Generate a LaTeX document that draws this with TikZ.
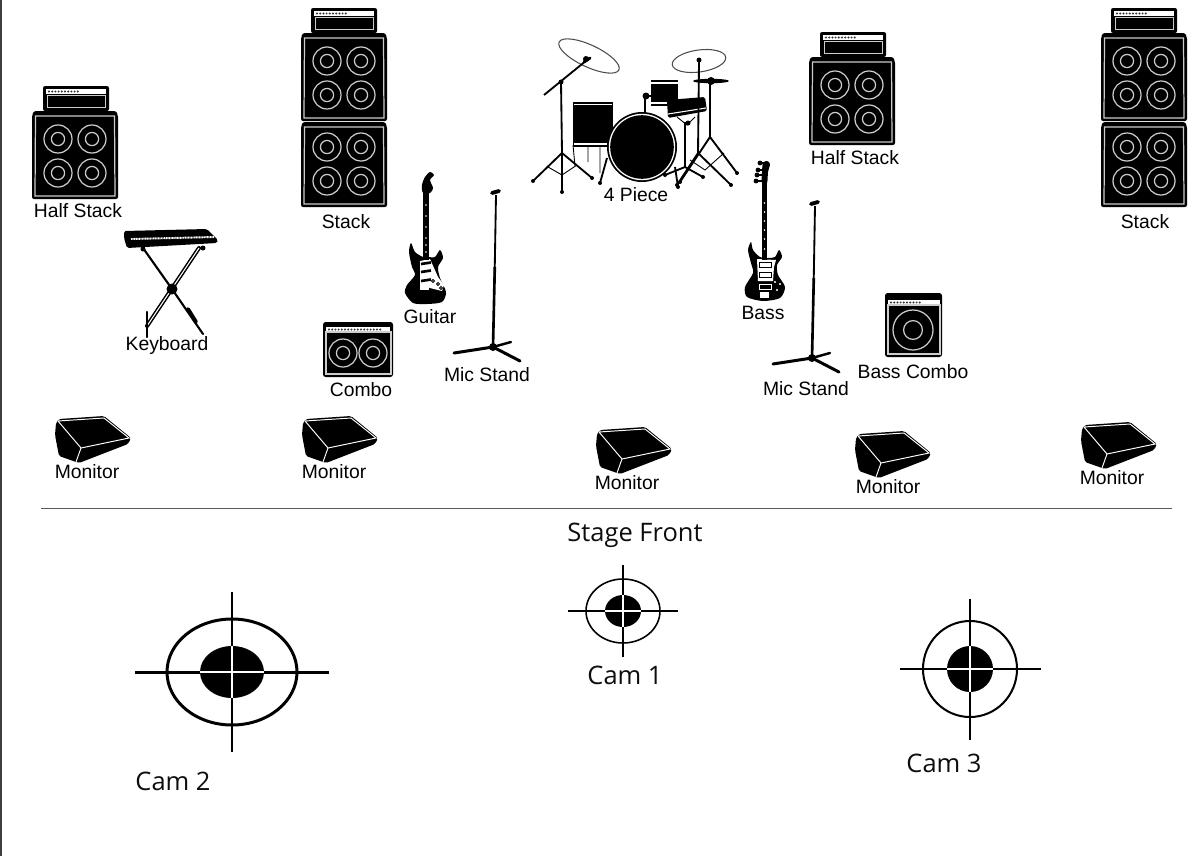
\documentclass[tikz,border=0pt]{standalone}
\usepackage{fontspec}
\setmainfont{Liberation Sans}
\newfontfamily\camfont{Open Sans}
\tikzset{
  lbl/.style={font=\fontsize{11}{13}\selectfont, text=black, inner sep=0pt},
  capt/.style={font=\camfont\fontsize{14.5}{16}\selectfont, text=black!95, inner sep=0pt},
  cone/.style={draw=black!20, line width=0.7pt},
  pipe/.style={draw=black, line width=1.05pt},
  thinpipe/.style={draw=black, line width=0.5pt},
  foot/.style={draw=black, line width=1.7pt, line cap=round}
}
% speaker at (x,y) with radius r
\newcommand{\speaker}[3]{
  \draw[cone] (#1,#2) circle [radius=#3];
  \draw[cone] (#1,#2) circle [radius=0.47*#3];
}
% row of knobs on an amp strip
\newcommand{\ampstrip}[4]{
  \fill[white] (#1,#2) rectangle (#3,#2+5);
  \foreach \k in {0,...,#4} \fill[black!80] (#1+3+\k*3.2,#2+2.5) circle [radius=1.1];
}
\newcommand{\amphead}[2]{
\begin{scope}[shift={(#1,#2)}]
\fill[rounded corners=1.2pt] (0,0) rectangle (66,25);
\ampstrip{3}{3}{63}{9}
\draw[cone, line width=0.35pt] (4,9.5) rectangle (62,21);
\end{scope}
}
\newcommand{\cabinet}[4]{
\begin{scope}[shift={(#1,#2)}]
\fill[rounded corners=1.2pt] (2,0) -- (84,0) -- (86,4) -- (86,#3) -- (0,#3) -- (0,4) -- cycle;
\draw[cone, line width=0.7pt] (3.5,5) -- (82.5,5) -- (83,#3-3) -- (3,#3-3) -- cycle;
\speaker{26}{#4}{14}
\speaker{60}{#4}{14}
\speaker{26}{#4+34}{14}
\speaker{60}{#4+34}{14}
\end{scope}
}
\newcommand{\micstand}[2]{
\begin{scope}[shift={(#1,#2)}]
\draw[pipe] (3,-152) -- (1.5,-65);
\draw[draw=black, line width=1.5pt] (1.8,-80) -- (0,0);
\draw[foot, line width=2.2pt] (-1,-154) -- (6,-156);
\draw[foot] (-39,6) -- (0,0) -- (27,14);
\draw[foot, line width=1.4pt] (0,0) -- (18,-5);
\fill (0,0) circle [radius=4];
\end{scope}
}
\newcommand{\monitor}[2]{
\begin{scope}[shift={(#1,#2)}]
\fill[rounded corners=1pt] (1,7) -- (4,3) -- (49,0) -- (76,22) -- (73,28) -- (24,47) -- (4,40) -- (0,19) -- cycle;
\draw[white, line width=0.55pt] (3,5) -- (49,2) -- (74,22) -- (26,32) -- cycle;
\draw[white, line width=0.55pt] (26,32) -- (21,46);
\end{scope}
}
% cam mark: x, y, rx, ry, inner rx, inner ry, half width, half height, line width
\newcommand{\cammark}[9]{
\fill (#1,#2) ellipse [x radius=#5, y radius=#6];
\draw[line width=#9] (#1,#2) ellipse [x radius=#3, y radius=#4];
\draw[line width=#9] (#1-#7,#2) -- (#1+#7,#2) (#1,#2-#8) -- (#1,#2+#8);
\draw[white, line width=0.75*#9] (#1-#5,#2) -- (#1+#5,#2) (#1,#2-#6) -- (#1,#2+#6);
}
\begin{document}
\begin{tikzpicture}[x=0.02cm, y=-0.02cm]
\useasboundingbox (0,0) rectangle (1200,856);
\fill[black!75] (0,0) rectangle (2.5,856);

% half stacks
\amphead{43}{86}
\cabinet{32}{111}{88}{28}
\node[lbl] (halfa) at (78,211) {Half Stack};
\amphead{820}{32}
\cabinet{809}{57}{88}{28}
\node[lbl] (halfb) at (855,158) {Half Stack};

% stacks
\foreach \sx in {301,1101} {
  \amphead{\sx+10}{8}
  \cabinet{\sx}{33}{88}{28}
  \cabinet{\sx}{122}{85}{25}
}
\node[lbl] (stacka) at (346,222) {Stack};
\node[lbl] (stackb) at (1145,222) {Stack};

% keyboard
\draw[foot, line width=1.2pt] (143,248) -- (172,289) -- (203,334);
\draw[foot, line width=2.3pt] (199,248) -- (147,326);
\draw[white, line width=0.6pt] (199,248) -- (147,326);
\draw[foot, line width=1.3pt] (147,312) -- (147,337);
\draw[foot, line width=2.2pt] (188,309) -- (196,322);
\fill (172,289) circle [radius=5.5];
\fill (143,249) circle [radius=2.5];
\fill (203,248) circle [radius=2.5];
\fill[rounded corners=1pt] (124,231) -- (207,229) -- (218,240) -- (217,243) -- (127,248) -- (124,238) -- cycle;
\draw[white, line width=1.1pt, dash pattern=on 0.6pt off 0.3pt] (131,239) -- (214,237);
\node[lbl] (keys) at (167,345) {Keyboard};

% combo
\fill[rounded corners=1.5pt] (323,322) rectangle (393,377);
\ampstrip{326}{327}{390}{16}
\draw[cone] (326,332) rectangle (391,374);
\speaker{343}{353}{14}
\speaker{373}{353}{14}
\node[lbl] (comboa) at (361,390) {Combo};

% guitar
\fill plot[smooth cycle, tension=0.45] coordinates {(423,257) (415,252) (411,243) (409,252) (412,267) (415,275) (407,285) (405,293) (413,303) (427,304) (442,302) (446,292) (440,278) (438,267) (443,258) (440,250) (435,257) (428,257)};
\fill[white] (420,261) -- (430,259) -- (438,277) -- (444,285) -- (442,291) -- (430,288) -- (420,284) -- cycle;
\foreach \gy in {264,272,281} \draw[draw=black, line width=1.5pt] (421,\gy) -- (431,\gy-1.5);
\fill[white] (420,284) rectangle (429,290);
\foreach \gx/\gy in {433/281,438/284,441/288} \draw[thinpipe, fill=white] (\gx,\gy) circle [radius=1.4];
\draw[black, line width=3.2pt] (426,188) -- (426,260);
\foreach \gy in {205,216,227,238,245,252} \fill[white] (426,\gy) circle [radius=0.8];
\fill plot[smooth cycle, tension=0.5] coordinates {(423,193) (422,185) (425,177) (430,172) (434,175) (430,180) (433,188) (430,193)};
\node[lbl] (guitar) at (430,317) {Guitar};

% mic stands
\micstand{493}{347}
\node[lbl] (mica) at (487,375) {Mic Stand};
\micstand{812}{358}
\node[lbl] (micb) at (806,389) {Mic Stand};

% bass
\fill plot[smooth cycle, tension=0.45] coordinates {(760,257) (753,250) (751,242) (748,250) (751,263) (753,273) (745,287) (747,297) (763,301) (780,298) (785,287) (778,275) (777,265) (782,257) (779,250) (775,257) (768,258)};
\fill[white] (757,259) -- (776,260) -- (774,267) -- (773,281) -- (758,281) -- cycle;
\draw[black, line width=0.4pt] (759,262) rectangle (771,267);
\draw[black, line width=0.4pt] (759,272) rectangle (771,277);
\draw[white, line width=0.4pt] (759,284) rectangle (771,289);
\fill[white] (760,292) rectangle (769,298);
\foreach \gx/\gy in {775/282,780/284,777/290} \fill[white] (\gx,\gy) circle [radius=1.2];
\draw[black, line width=2.8pt] (764.5,180) -- (764.5,260);
\foreach \gy in {203,212,221,230,239,249} \fill[white] (764.5,\gy) circle [radius=0.8];
\fill plot[smooth cycle, tension=0.5] coordinates {(762,183) (762,172) (763,163) (767,161) (770,164) (768,172) (767,183)};
\foreach \gx/\gy in {760/163,758/170,757/175,756/181} \fill (\gx,\gy) circle [radius=2.4];
\foreach \gx/\gy in {760/163,758/170,757/175,756/181} \draw[black, line width=0.6pt] (\gx,\gy) -- (764,\gy);
\node[lbl] (bass) at (763,313) {Bass};

% bass combo
\fill[rounded corners=1.5pt] (885,293) rectangle (942,357);
\ampstrip{888}{300}{940}{9}
\draw[cone] (888,305) rectangle (940,354);
\speaker{913}{330}{20}
\node[lbl] (combob) at (913,372) {Bass Combo};

% drums
\draw[black!70, line width=0.6pt, rotate around={-25:(589,56)}] (589,56) ellipse [x radius=33, y radius=11];
\draw[black!70, line width=0.6pt, rotate around={8:(699,61)}] (699,61) ellipse [x radius=27, y radius=11];
\draw[pipe] (544,95) -- (587,60);
\draw[foot] (584,62) -- (590,58);
\fill (586,59) circle [radius=3];
\fill (561,82) circle [radius=2.5];
\draw[pipe] (561,82) -- (562,153);
\draw[pipe] (533,181) -- (562,153) -- (592,178) (562,153) -- (562,192);
\draw[thinpipe] (548,167) -- (562,175) -- (577,165);
\draw[thinpipe] (573,145) -- (575,166) (588,147) -- (588,162) (600,147) -- (600,173);
\fill (573,102) rectangle (613,147);
\draw[white, line width=0.6pt] (574,104.5) -- (612,104.5) (574,144) -- (612,144);
\draw[pipe] (607,158) -- (600,183) (675,167) -- (678,187);
\draw[pipe] (645,113) -- (645,96) -- (652,96);
\fill (646,96) circle [radius=3.5];
\fill[black] (642,147) circle [radius=35];
\fill[white] (642,147) circle [radius=33.2];
\fill[black] (642,147) circle [radius=31.8];
\fill (651,80) rectangle (678,106);
\draw[white, line width=0.6pt] (651,83) -- (678,83) (651,103) -- (678,103);
\fill[rounded corners=1pt] (667,100) -- (705,97) -- (707,111) -- (668,118) -- cycle;
\draw[white, line width=0.6pt] (668,114) -- (706,108);
\draw[pipe] (685,122) -- (685,167) (665,175) -- (685,167) -- (703,177);
\draw[thinpipe] (677,117) -- (687,125) -- (695,117);
\fill (688,123) circle [radius=2.5];
\draw[pipe] (699,62) -- (698,153) (677,185) -- (698,153) -- (731,185);
\fill (699,60) circle [radius=2.5];
\draw[pipe] (710,83) -- (710,137) (680,182) -- (710,137) -- (737,173);
\draw[thinpipe] (690,160) -- (705,170) -- (724,153);
\fill (711,81) ellipse [x radius=18, y radius=2.2];
\fill (711,81) ellipse [x radius=4, y radius=4];
\foreach \dx/\dy in {533/181,592/178,562/192,600/183,678/187,665/175,703/177,677/185,731/185,737/173,680/182}
  \fill (\dx,\dy) circle [radius=2];
\node[lbl] (drums) at (636,195) {4 Piece};

% monitors
\monitor{55}{416}
\node[lbl] (mona) at (87,472) {Monitor};
\monitor{302}{416}
\node[lbl] (monb) at (334,472) {Monitor};
\monitor{596}{427}
\node[lbl] (monc) at (627,483) {Monitor};
\monitor{855}{431}
\node[lbl] (mond) at (888,487) {Monitor};
\monitor{1081}{422}
\node[lbl] (mone) at (1112,478) {Monitor};

% stage front
\draw[black!65, line width=0.45pt] (41,508) -- (1172,508);
\node[capt] (front) at (635,535) {Stage Front};

% cameras
\cammark{232}{672}{65}{53}{32}{26}{97}{80}{1.7pt}
\node[capt] (camb) at (173,781) {Cam 2};
\cammark{623}{611}{37}{32}{18}{16}{55}{46}{0.9pt}
\node[capt] (cama) at (625,675) {Cam 1};
\cammark{970}{669}{47}{48}{23}{23}{70.5}{70.5}{1.15pt}
\node[capt] (camc) at (944,763) {Cam 3};
\end{tikzpicture}
\end{document}
